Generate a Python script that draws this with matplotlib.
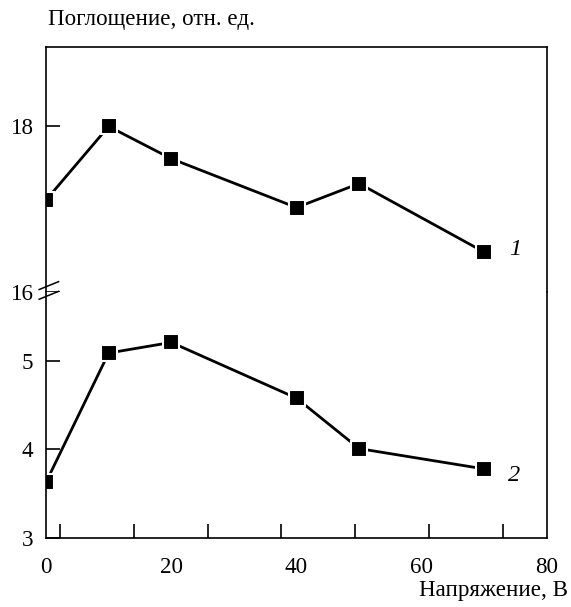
import matplotlib.pyplot as plt
from matplotlib.lines import Line2D

plt.rcParams['font.family'] = ['Liberation Serif', 'DejaVu Serif']

# data
voltage = [0, 10, 20, 40, 50, 70]
absorb_1 = [17.11, 18.0, 17.61, 17.02, 17.31, 16.48]
absorb_2 = [3.63, 5.09, 5.21, 4.58, 4.01, 3.78]

x_labels = [0, 20, 40, 60, 80]
x_minor = [2.2, 14.0, 25.8, 37.6, 49.4, 61.2, 73.0]
y_top_ticks = [16, 18]
y_bot_ticks = [3, 4, 5]

fig = plt.figure(figsize=(5.71, 6.07), dpi=100)
ax_top = fig.add_axes([0.0806, 0.519, 0.8774, 0.4037])
ax_bot = fig.add_axes([0.0806, 0.1137, 0.8774, 0.4053])

fs = 16.6
lw_ax = 1.2
style = dict(color='black', lw=2.0, marker='s', ms=12, mfc='black',
             mec='white', mew=1.5)

ax_top.plot(voltage, absorb_1, **style)
ax_bot.plot(voltage, absorb_2, **style)

for ax in (ax_top, ax_bot):
    ax.set_xlim(0, 80)
    for s in ax.spines.values():
        s.set_linewidth(lw_ax)
    ax.tick_params(axis='y', direction='in', length=10, width=lw_ax,
                   labelsize=fs, pad=9)

ax_top.set_ylim(16, 18.96)
ax_bot.set_ylim(3, 5.78)
ax_top.spines['bottom'].set_visible(False)
ax_bot.spines['top'].set_visible(False)

ax_top.set_yticks(y_top_ticks)
ax_bot.set_yticks(y_bot_ticks)
ax_top.set_xticks([])

ax_bot.set_xticks(x_labels)
ax_bot.set_xticks(x_minor, minor=True)
ax_bot.tick_params(axis='x', which='major', length=0, labelsize=fs, pad=14)
ax_bot.tick_params(axis='x', which='minor', direction='in', length=10,
                   width=lw_ax)

# curve numbers
ax_top.text(75.0, 16.51, '1', fontsize=fs + 1, style='italic',
            ha='center', va='center')
ax_bot.text(74.7, 3.71, '2', fontsize=fs + 1, style='italic',
            ha='center', va='center')

# break marks on the left axis
x0 = 0.0806
y0 = 0.519
for dy in (0.004, -0.012):
    fig.add_artist(Line2D([x0 - 0.012, x0 + 0.022],
                          [y0 + dy, y0 + dy + 0.013],
                          transform=fig.transFigure, color='black', lw=1.1))

fig.text(0.084, 0.968, 'Поглощение, отн. ед.', fontsize=fs,
         ha='left', va='center')
fig.text(0.995, 0.027, 'Напряжение, В', fontsize=fs,
         ha='right', va='center')

fig.savefig('out.png', dpi=100)
